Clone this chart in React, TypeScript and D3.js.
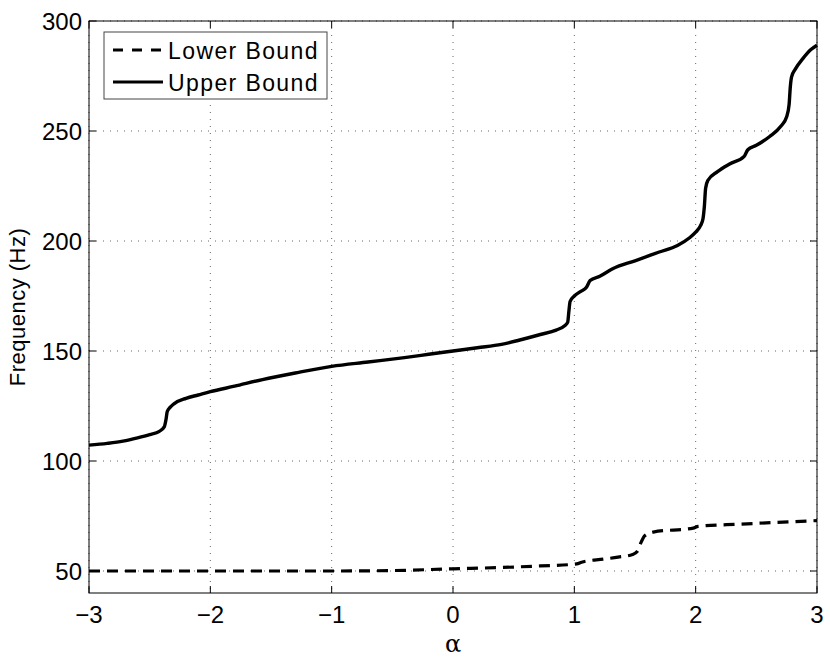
import React, { useRef, useEffect } from "react";
import * as d3 from "d3";

const xTicks = [-3, -2, -1, 0, 1, 2, 3];
const yTicks = [50, 100, 150, 200, 250, 300];

const upperAlpha = [
  -3.0, -2.85, -2.72, -2.6, -2.5, -2.42, -2.38, -2.365, -2.355, -2.33, -2.3, -2.2, -2.1, -2.0,
  -1.8, -1.57, -1.3, -1.0, -0.7, -0.4, -0.2, 0.0, 0.2, 0.4, 0.55, 0.72, 0.85, 0.92, 0.945,
  0.955, 0.965, 1.0, 1.05, 1.1, 1.13, 1.21, 1.32, 1.5, 1.7, 1.85, 1.95, 2.0, 2.04, 2.06,
  2.072, 2.082, 2.1, 2.18, 2.28, 2.4, 2.43, 2.5, 2.61, 2.7, 2.75, 2.77, 2.78, 2.79, 2.82,
  2.885, 2.95, 3.0,
];
const upperFreq = [
  107.2, 108, 109, 110.5, 112, 113.5, 115.5, 119, 122.5, 124.5, 126, 128.5, 130, 131.5,
  134, 137, 140, 143, 145, 147, 148.5, 150, 151.5, 153, 155, 157.5, 159.5, 161.5, 163,
  168, 172.5, 175, 177, 179, 182, 184, 187.5, 191, 195, 198, 201.5, 204, 207, 210,
  216, 224, 227.5, 231.5, 235, 238.5, 241.5, 243.5, 247.5, 252, 256.5, 262, 270, 274.5, 278,
  283, 287, 289,
];

const lowerAlpha = [
  -3.0, -1.0, -0.5, 0.0, 0.4, 0.72, 1.02, 1.06, 1.24, 1.36, 1.48, 1.52, 1.55, 1.58, 1.65,
  1.98, 2.02, 2.37, 3.0,
];
const lowerFreq = [
  50, 50, 50.2, 51, 51.6, 52.3, 53.2, 54, 55.4, 56.3, 57.5, 59, 63, 66, 67.7,
  69.5, 70.3, 71.3, 72.9,
];

const seriesNames = ["Lower Bound", "Upper Bound"];

const FONT = "'Liberation Sans', Arial, Helvetica, sans-serif";

function App() {
  const svgRef = useRef<SVGSVGElement>(null);

  useEffect(() => {
    const width = 830;
    const height = 660;
    const margin = { top: 21, right: 13, bottom: 67, left: 89 };
    const innerWidth = width - margin.left - margin.right;
    const innerHeight = height - margin.top - margin.bottom;

    const svg = d3.select(svgRef.current);
    svg.selectAll("*").remove();

    const x = d3.scaleLinear().domain([-3, 3]).range([0, innerWidth]);
    const y = d3.scaleLinear().domain([40, 300]).range([innerHeight, 0]);

    const g = svg.append("g").attr("transform", `translate(${margin.left},${margin.top})`);

    // grid
    g.selectAll(".vgrid")
      .data(xTicks)
      .enter()
      .append("line")
      .attr("x1", (d) => x(d))
      .attr("x2", (d) => x(d))
      .attr("y1", 0)
      .attr("y2", innerHeight)
      .attr("stroke", "#666")
      .attr("stroke-width", 1)
      .attr("stroke-dasharray", "1,6");
    g.selectAll(".hgrid")
      .data(yTicks)
      .enter()
      .append("line")
      .attr("x1", 0)
      .attr("x2", innerWidth)
      .attr("y1", (d) => y(d))
      .attr("y2", (d) => y(d))
      .attr("stroke", "#666")
      .attr("stroke-width", 1)
      .attr("stroke-dasharray", "1,6");

    const tickLen = 7;
    // ticks, inward on all four sides
    xTicks.forEach((t) => {
      g.append("line").attr("x1", x(t)).attr("x2", x(t)).attr("y1", innerHeight).attr("y2", innerHeight - tickLen).attr("stroke", "#000");
      g.append("line").attr("x1", x(t)).attr("x2", x(t)).attr("y1", 0).attr("y2", tickLen).attr("stroke", "#000");
    });
    yTicks.forEach((t) => {
      g.append("line").attr("x1", 0).attr("x2", tickLen).attr("y1", y(t)).attr("y2", y(t)).attr("stroke", "#000");
      g.append("line").attr("x1", innerWidth).attr("x2", innerWidth - tickLen).attr("y1", y(t)).attr("y2", y(t)).attr("stroke", "#000");
    });

    // tick labels
    g.selectAll(".xlab")
      .data(xTicks)
      .enter()
      .append("text")
      .attr("x", (d) => x(d))
      .attr("y", innerHeight + 30)
      .attr("text-anchor", "middle")
      .attr("font-family", FONT)
      .attr("font-size", 24)
      .text((d) => (d < 0 ? "\u2212" + Math.abs(d) : String(d)));
    g.selectAll(".ylab")
      .data(yTicks)
      .enter()
      .append("text")
      .attr("x", -7)
      .attr("y", (d) => y(d) + 8.5)
      .attr("text-anchor", "end")
      .attr("font-family", FONT)
      .attr("font-size", 24)
      .text((d) => String(d));

    // lines
    const upper = upperAlpha.map((a, i) => [a, upperFreq[i]] as [number, number]);
    const lower = lowerAlpha.map((a, i) => [a, lowerFreq[i]] as [number, number]);
    const line = d3
      .line<[number, number]>()
      .x((d) => x(d[0]))
      .y((d) => y(d[1]))
      .curve(d3.curveMonotoneX);

    g.append("path")
      .datum(lower)
      .attr("d", line)
      .attr("fill", "none")
      .attr("stroke", "#000")
      .attr("stroke-width", 3.2)
      .attr("stroke-dasharray", "11,7");
    g.append("path")
      .datum(upper)
      .attr("d", line)
      .attr("fill", "none")
      .attr("stroke", "#000")
      .attr("stroke-width", 3.4)
      .attr("stroke-linejoin", "round");

    // axes box
    g.append("rect")
      .attr("x", 0)
      .attr("y", 0)
      .attr("width", innerWidth)
      .attr("height", innerHeight)
      .attr("fill", "none")
      .attr("stroke", "#000")
      .attr("stroke-width", 1);

    // axis labels
    svg.append("text")
      .attr("x", margin.left + innerWidth / 2)
      .attr("y", 652)
      .attr("text-anchor", "middle")
      .attr("font-family", "'DejaVu Serif', 'Liberation Serif', serif")
      .attr("font-size", 24)
      .text("\u03b1");
    svg.append("text")
      .attr("transform", `translate(25,${margin.top + innerHeight / 2}) rotate(-90)`)
      .attr("text-anchor", "middle")
      .attr("font-family", FONT)
      .attr("font-size", 22)
      .attr("letter-spacing", 0.5)
      .text("Frequency (Hz)");

    // legend
    const legend = svg.append("g").attr("transform", "translate(104,32)");
    legend.append("rect")
      .attr("width", 223)
      .attr("height", 67)
      .attr("fill", "#fff")
      .attr("stroke", "#444")
      .attr("stroke-width", 1);
    seriesNames.forEach((name, i) => {
      const ly = 18 + i * 32;
      legend.append("line")
        .attr("x1", 9)
        .attr("x2", 59)
        .attr("y1", ly)
        .attr("y2", ly)
        .attr("stroke", "#000")
        .attr("stroke-width", 3)
        .attr("stroke-dasharray", i === 0 ? "10,9" : null);
      legend.append("text")
        .attr("x", 64)
        .attr("y", ly + 8.5)
        .attr("font-family", FONT)
        .attr("font-size", 23)
        .attr("letter-spacing", 1.4)
        .text(name);
    });
  }, []);

  return (
    <svg
      ref={svgRef}
      width={830}
      height={660}
      style={{ position: "absolute", left: 0, top: 0, background: "#fff" }}
    ></svg>
  );
}

export default App;
